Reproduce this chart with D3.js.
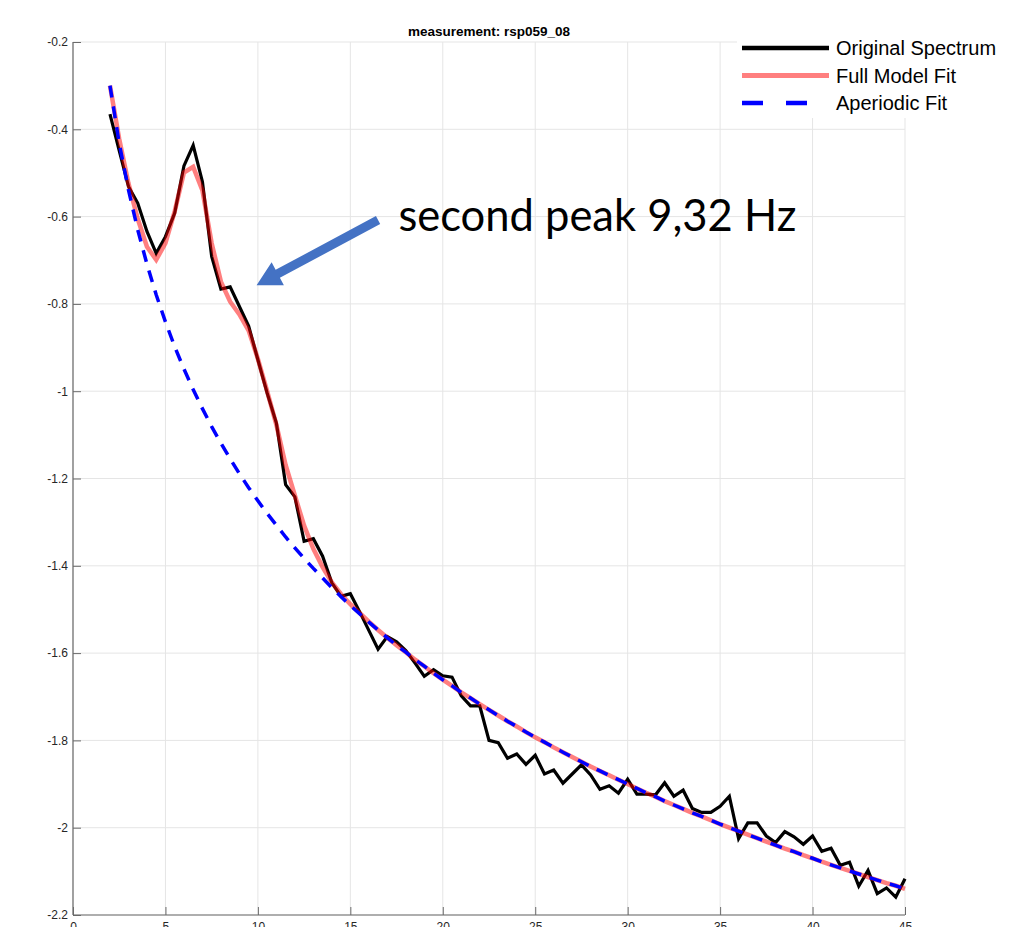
<!DOCTYPE html>
<meta charset="utf-8">
<style>
body { margin: 0; background: #fff; }
svg { display: block; }
.tick text { font: 12px "Liberation Sans", Arial, sans-serif; fill: #262626; }
.grid line { stroke: #e5e5e5; stroke-width: 1; }
</style>
<svg width="1013" height="927"></svg>
<script src="https://d3js.org/d3.v7.min.js"></script>
<script>

// frequencies (Hz)
var freqs = [2, 2.5, 3, 3.5, 4, 4.5, 5, 5.5, 6, 6.5, 7, 7.5, 8, 8.5, 9, 9.5, 10, 10.5, 11, 11.5,
  12, 12.5, 13, 13.5, 14, 14.5, 15, 15.5, 16, 16.5, 17, 17.5, 18, 18.5, 19, 19.5, 20, 20.5,
  21, 21.5, 22, 22.5, 23, 23.5, 24, 24.5, 25, 25.5, 26, 26.5, 27, 27.5, 28, 28.5, 29, 29.5,
  30, 30.5, 31, 31.5, 32, 32.5, 33, 33.5, 34, 34.5, 35, 35.5, 36, 36.5, 37, 37.5, 38, 38.5,
  39, 39.5, 40, 40.5, 41, 41.5, 42, 42.5, 43, 43.5, 44, 44.5, 45];

var original = [-0.365, -0.449, -0.531, -0.569, -0.634, -0.684, -0.646, -0.592, -0.484, -0.437,
  -0.520, -0.691, -0.766, -0.761, -0.806, -0.851, -0.928, -1.004, -1.073, -1.214,
  -1.242, -1.344, -1.338, -1.378, -1.439, -1.470, -1.464, -1.505, -1.548, -1.591,
  -1.562, -1.574, -1.594, -1.623, -1.653, -1.638, -1.652, -1.655, -1.698, -1.721,
  -1.721, -1.800, -1.805, -1.841, -1.831, -1.855, -1.834, -1.877, -1.868, -1.898,
  -1.877, -1.856, -1.879, -1.912, -1.904, -1.921, -1.889, -1.923, -1.923, -1.925,
  -1.897, -1.928, -1.914, -1.956, -1.965, -1.965, -1.951, -1.928, -2.025, -1.989,
  -1.989, -2.019, -2.034, -2.009, -2.021, -2.038, -2.019, -2.054, -2.047, -2.086,
  -2.079, -2.134, -2.098, -2.151, -2.138, -2.159, -2.117];

var fullFit = [-0.300, -0.422, -0.524, -0.605, -0.669, -0.699, -0.661, -0.588, -0.499, -0.486,
  -0.540, -0.661, -0.749, -0.795, -0.824, -0.861, -0.926, -1.000, -1.077, -1.169,
  -1.239, -1.308, -1.361, -1.403, -1.438, -1.465, -1.488, -1.508, -1.528, -1.547,
  -1.565, -1.582, -1.598, -1.615, -1.630, -1.646, -1.661, -1.675, -1.690, -1.703,
  -1.717, -1.730, -1.743, -1.756, -1.768, -1.781, -1.793, -1.804, -1.816, -1.827,
  -1.838, -1.849, -1.860, -1.870, -1.880, -1.890, -1.900, -1.910, -1.920, -1.929,
  -1.939, -1.948, -1.957, -1.966, -1.974, -1.983, -1.992, -2.000, -2.008, -2.016,
  -2.024, -2.032, -2.040, -2.048, -2.055, -2.063, -2.070, -2.078, -2.085, -2.092,
  -2.099, -2.106, -2.113, -2.120, -2.127, -2.133, -2.140];

var aperiodic = [-0.300, -0.432, -0.539, -0.630, -0.709, -0.779, -0.841, -0.898, -0.949, -0.996,
  -1.040, -1.081, -1.119, -1.155, -1.189, -1.221, -1.251, -1.280, -1.307, -1.334,
  -1.359, -1.383, -1.406, -1.428, -1.450, -1.471, -1.491, -1.510, -1.529, -1.547,
  -1.565, -1.582, -1.598, -1.615, -1.630, -1.646, -1.661, -1.675, -1.690, -1.703,
  -1.717, -1.730, -1.743, -1.756, -1.768, -1.781, -1.793, -1.804, -1.816, -1.827,
  -1.838, -1.849, -1.860, -1.870, -1.880, -1.890, -1.900, -1.910, -1.920, -1.929,
  -1.939, -1.948, -1.957, -1.966, -1.974, -1.983, -1.992, -2.000, -2.008, -2.016,
  -2.024, -2.032, -2.040, -2.048, -2.055, -2.063, -2.070, -2.078, -2.085, -2.092,
  -2.099, -2.106, -2.113, -2.120, -2.127, -2.133, -2.140];

var xTicks = [0, 5, 10, 15, 20, 25, 30, 35, 40, 45];
var yTicks = [-0.2, -0.4, -0.6, -0.8, -1, -1.2, -1.4, -1.6, -1.8, -2, -2.2];
var legendLabels = ["Original Spectrum", "Full Model Fit", "Aperiodic Fit"];
var title = "measurement: rsp059_08";
var note = "second peak 9,32 Hz";

var svg = d3.select("svg");

var x = d3.scaleLinear().domain([0, 45]).range([73, 905]);
var y = d3.scaleLinear().domain([-2.2, -0.2]).range([915, 42]);

// grid
var grid = svg.append("g").attr("class", "grid");
grid.selectAll(".gx").data(xTicks).enter().append("line")
    .attr("x1", function(d) { return x(d); }).attr("x2", function(d) { return x(d); })
    .attr("y1", y(-2.2)).attr("y2", y(-0.2));
grid.selectAll(".gy").data(yTicks).enter().append("line")
    .attr("x1", x(0)).attr("x2", x(45))
    .attr("y1", function(d) { return y(d); }).attr("y2", function(d) { return y(d); });

// axes
var xAxis = svg.append("g")
    .attr("transform", "translate(0," + y(-2.2) + ")")
    .call(d3.axisBottom(x).tickValues(xTicks).tickSize(-8).tickPadding(7).tickFormat(function(d) { return String(d); }));
var yAxis = svg.append("g")
    .attr("transform", "translate(" + x(0) + ",0)")
    .call(d3.axisLeft(y).tickValues(yTicks).tickSize(-8).tickPadding(5).tickFormat(function(d) { return String(d); }));
svg.selectAll(".domain").attr("stroke", "#6a6a6a").attr("stroke-width", 1.2);
svg.selectAll(".tick line").attr("stroke", "#6a6a6a");
xAxis.select(".domain").attr("d", "M" + x(0) + ",0H" + x(45));
yAxis.select(".domain").attr("d", "M0," + y(-0.2) + "V" + y(-2.2));

var line = function(vals) {
  return d3.line()
    .x(function(d, i) { return x(freqs[i]); })
    .y(function(d) { return y(d); })(vals);
};

svg.append("path").attr("d", line(original))
    .attr("fill", "none").attr("stroke", "#000").attr("stroke-width", 3.2)
    .attr("stroke-linejoin", "miter");
svg.append("path").attr("d", line(fullFit))
    .attr("fill", "none").attr("stroke", "#ff0000").attr("stroke-opacity", 0.5)
    .attr("stroke-width", 4.5);
svg.append("path").attr("d", line(aperiodic))
    .attr("fill", "none").attr("stroke", "#0000ff").attr("stroke-width", 3.5)
    .attr("stroke-dasharray", "12,9");

// title
svg.append("text")
    .attr("x", (x(0) + x(45)) / 2).attr("y", 36)
    .attr("text-anchor", "middle")
    .style("font", "bold 13.5px 'Liberation Sans', Arial, sans-serif")
    .attr("fill", "#000")
    .text(title);

// legend
var lg = svg.append("g");
lg.append("rect").attr("x", 737).attr("y", 30).attr("width", 290).attr("height", 88)
    .attr("fill", "#fff");
var legendStyles = [
  { stroke: "#000", opacity: 1, dash: null, w: 4.5 },
  { stroke: "#ff0000", opacity: 0.5, dash: null, w: 5 },
  { stroke: "#0000ff", opacity: 1, dash: "21,23", w: 4.5 }
];
legendLabels.forEach(function(lab, i) {
  var yy = 48 + i * 27.5;
  var s = legendStyles[i];
  lg.append("line").attr("x1", 742).attr("x2", 829).attr("y1", yy).attr("y2", yy)
      .attr("stroke", s.stroke).attr("stroke-opacity", s.opacity)
      .attr("stroke-width", s.w).attr("stroke-dasharray", s.dash);
  lg.append("text").attr("x", 836).attr("y", yy + 7)
      .style("font", "20px 'Liberation Sans', Arial, sans-serif")
      .attr("fill", "#000").text(lab);
});

// annotation
var tip = [x(9.93), y(-0.757)], tail = [x(16.5), y(-0.608)];
var dx = tip[0] - tail[0], dy = tip[1] - tail[1], len = Math.sqrt(dx * dx + dy * dy);
var ux = dx / len, uy = dy / len, px = -uy, py = ux;
var hl = 24, hw = 13, sw = 4.5;
var bx = tip[0] - ux * hl, by = tip[1] - uy * hl;
var pts = [
  [tail[0] + px * sw, tail[1] + py * sw],
  [bx + px * sw, by + py * sw],
  [bx + px * hw, by + py * hw],
  tip,
  [bx - px * hw, by - py * hw],
  [bx - px * sw, by - py * sw],
  [tail[0] - px * sw, tail[1] - py * sw]
];
svg.append("polygon").attr("points", pts.map(function(p) { return p.join(","); }).join(" "))
    .attr("fill", "#4472c4");

var t = svg.append("text")
    .attr("x", x(17.6)).attr("y", y(-0.632))
    .style("font-family", "Lato, 'Open Sans', sans-serif")
    .style("font-size", "40px")
    .attr("fill", "#000")
    .text(note);
var w = t.node().getComputedTextLength();
t.style("font-size", (40 * 398 / w) + "px");

</script>
